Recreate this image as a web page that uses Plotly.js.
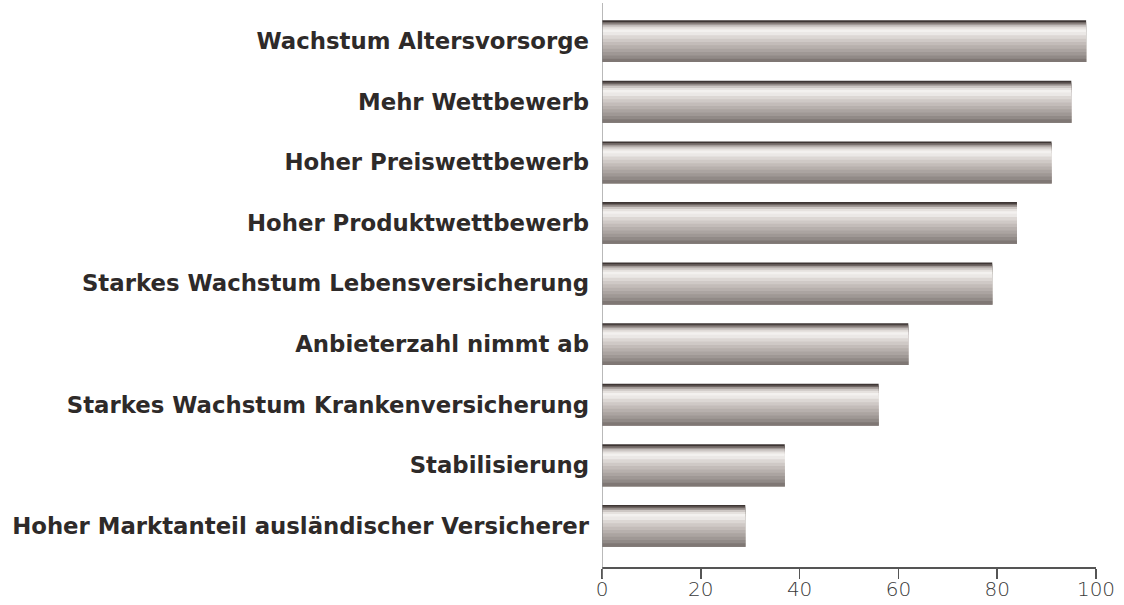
<!DOCTYPE html>
<html>
<head>
<meta charset="utf-8">
<script src="https://cdn.plot.ly/plotly-3.0.1.min.js"></script>
<style>
  html, body { margin: 0; padding: 0; background: #ffffff; }
  #chart { width: 1124px; height: 605px; }
</style>
</head>
<body>
<div id="chart"></div>
<script>
// Categories listed top to bottom as in the picture
const categories = [
  "Wachstum Altersvorsorge",
  "Mehr Wettbewerb",
  "Hoher Preiswettbewerb",
  "Hoher Produktwettbewerb",
  "Starkes Wachstum Lebensversicherung",
  "Anbieterzahl nimmt ab",
  "Starkes Wachstum Krankenversicherung",
  "Stabilisierung",
  "Hoher Marktanteil ausländischer Versicherer"
];
const values = [98, 95, 91, 84, 79, 62, 56, 37, 29];
const xTickValues = [0, 20, 40, 60, 80, 100];

// Cylinder-like shading: bands from the top edge of each bar downward
const bandStarts = [0.00, 0.04, 0.08, 0.12, 0.17, 0.22, 0.28, 0.36, 0.44, 0.52, 0.60, 0.68, 0.76, 0.84, 0.92];
const bandColors = ["#3e3634", "#6e6562", "#a19996", "#cdc7c4", "#e6e2df", "#f3f1ef", "#ebe8e6",
                    "#dcd7d4", "#cfc9c6", "#c3bcb9", "#b7b0ad", "#aba4a1", "#9f9895", "#918a87", "#7f7774"];
const barWidth = 0.69;

const traces = bandStarts.map((f0, i) => ({
  type: "bar",
  orientation: "h",
  y: categories.map((c, k) => k),
  x: values,
  width: barWidth * (1 - f0),
  offset: -barWidth / 2 + f0 * barWidth,
  marker: { color: bandColors[i], line: { width: 0 } },
  hoverinfo: "skip",
  showlegend: false
}));

const layout = {
  width: 1124,
  height: 605,
  margin: { l: 602, r: 28, t: 3, b: 38 },
  paper_bgcolor: "#ffffff",
  plot_bgcolor: "#ffffff",
  barmode: "overlay",
  showlegend: false,
  xaxis: {
    range: [0, 100],
    tickvals: xTickValues,
    ticktext: xTickValues.map(String),
    ticks: "outside",
    ticklen: 10,
    tickwidth: 1.5,
    tickcolor: "#555555",
    showline: true,
    linecolor: "#555555",
    linewidth: 2,
    showgrid: false,
    zeroline: false,
    ticklabelstandoff: -7,
    tickfont: { family: "DejaVu Sans", size: 20, color: "#3a3a3a", weight: 300 },
    fixedrange: true
  },
  yaxis: {
    range: [8.68, -0.63],
    tickvals: categories.map((c, k) => k),
    ticktext: categories,
    ticks: "",
    showline: false,
    showgrid: false,
    zeroline: false,
    ticklabelstandoff: 12,
    tickfont: { family: "DejaVu Sans", size: 22.8, color: "#2e2a29", weight: "bold" },
    fixedrange: true
  },
  shapes: [{
    type: "line", xref: "x", yref: "paper",
    x0: 0, x1: 0, y0: -0.02, y1: 1,
    line: { color: "#8a8a8a", width: 1.2 }
  }]
};

Plotly.newPlot("chart", traces, layout, { displayModeBar: false, staticPlot: true });
</script>
</body>
</html>
